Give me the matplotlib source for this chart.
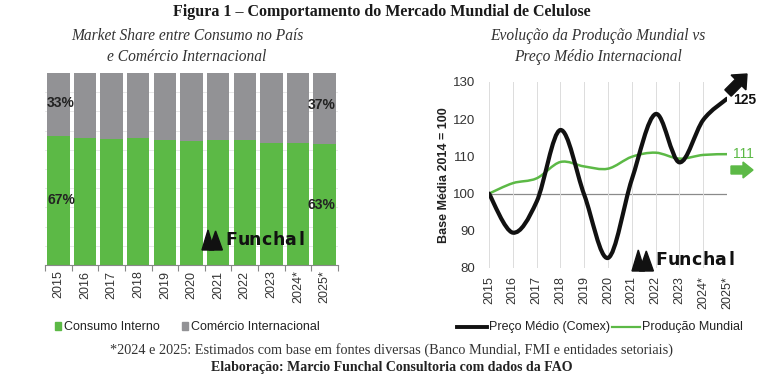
import matplotlib
matplotlib.use("Agg")
import matplotlib.pyplot as plt
from matplotlib import font_manager
from matplotlib.path import Path
from matplotlib.patches import PathPatch, Polygon, FancyArrow, Rectangle
from matplotlib.lines import Line2D
import numpy as np

# ---------------- data ----------------
years = ["2015", "2016", "2017", "2018", "2019", "2020", "2021", "2022", "2023", "2024*", "2025*"]
consumo_interno = [67.0, 66.2, 65.6, 66.0, 65.0, 64.6, 65.2, 64.9, 63.8, 63.8, 63.0]
comercio_internacional = [100 - v for v in consumo_interno]
preco_medio = [100.0, 89.5, 97.8, 117.1, 99.7, 82.7, 103.8, 121.4, 108.4, 119.8, 125.5]
producao_mundial = [100.0, 102.8, 104.1, 108.5, 107.3, 106.7, 109.9, 111.0, 109.4, 110.4, 110.6]
share_labels = ["33%", "67%", "37%", "63%"]
end_labels = ["125", "111"]

# ---------------- fonts ----------------
avail = {f.name for f in font_manager.fontManager.ttflist}
sans = "Liberation Sans Narrow" if "Liberation Sans Narrow" in avail else "Liberation Sans"
serif = "Liberation Serif"
plt.rcParams["font.family"] = [sans, "DejaVu Sans"]

GREEN = "#5cb946"
GRAY = "#929295"
DARK = "#1a1a1a"
W, H = 779, 379

fig = plt.figure(figsize=(7.79, 3.79), dpi=100)
fig.patch.set_facecolor("white")

def fx(px):
    return px / W

def fy(py):
    return 1 - py / H

# ---------------- titles ----------------
fig.text(fx(382), fy(12), "Figura 1 – Comportamento do Mercado Mundial de Celulose",
         ha="center", va="center", fontsize=11.5, fontweight="bold", family=serif, color=DARK)
fig.text(fx(187), fy(36), "Market Share entre Consumo no País", ha="center", va="center",
         fontsize=11.2, style="italic", family=serif, color="#333333")
fig.text(fx(187), fy(57), "e Comércio Internacional", ha="center", va="center",
         fontsize=11.2, style="italic", family=serif, color="#333333")
fig.text(fx(598), fy(36), "Evolução da Produção Mundial vs", ha="center", va="center",
         fontsize=11.2, style="italic", family=serif, color="#333333")
fig.text(fx(598), fy(57), "Preço Médio Internacional", ha="center", va="center",
         fontsize=11.2, style="italic", family=serif, color="#333333")

# ---------------- left chart ----------------
ax1 = fig.add_axes([fx(45), fy(265), fx(293), fy(73) - fy(265)])
x = np.arange(len(years))
ax1.bar(x, consumo_interno, width=0.84, color=GREEN, zorder=2)
ax1.bar(x, comercio_internacional, bottom=consumo_interno, width=0.84, color=GRAY, zorder=2)
ax1.set_xlim(-0.5, len(years) - 0.5)
ax1.set_ylim(0, 100)
for s in ["top", "right", "left"]:
    ax1.spines[s].set_visible(False)
ax1.spines["bottom"].set_color("#888888")
ax1.spines["bottom"].set_linewidth(0.8)
ax1.set_yticks([])
ax1.set_xticks(x)
ax1.set_xticklabels(years, rotation=90, fontsize=9, color="#333333")
ax1.tick_params(axis="x", length=0, pad=4)
ax1.set_xticks(np.arange(-0.5, len(years), 1), minor=True)
ax1.tick_params(axis="x", which="minor", length=4, color="#888888", width=0.8)
for g in np.arange(10, 100, 10):
    ax1.axhline(g, color="#e4e4e4", lw=0.6, zorder=1)

ax1.text(-0.42, 84.4, share_labels[0], ha="left", va="center",
         fontsize=10, fontweight="bold", color="#222222", zorder=5)
ax1.text(-0.42, 33.9, share_labels[1], ha="left", va="center",
         fontsize=10, fontweight="bold", color="#222222", zorder=5)
ax1.text(10.42, 83.3, share_labels[2], ha="right", va="center",
         fontsize=10, fontweight="bold", color="#222222", zorder=5)
ax1.text(10.42, 31.3, share_labels[3], ha="right", va="center",
         fontsize=10, fontweight="bold", color="#222222", zorder=5)

# ---------------- right chart ----------------
ax2 = fig.add_axes([fx(489), fy(268), fx(238), fy(82) - fy(268)])
xr = np.arange(len(years))
ax2.set_xlim(0, len(years) - 1)
ax2.set_ylim(80, 130)
for s in ["top", "right", "left", "bottom"]:
    ax2.spines[s].set_visible(False)
ax2.set_yticks([80, 90, 100, 110, 120, 130])
ax2.tick_params(axis="y", length=0, pad=10, labelsize=9.5, labelcolor="#333333")
ax2.set_xticks(xr)
ax2.set_xticklabels(years, rotation=90, fontsize=9, color="#333333")
ax2.tick_params(axis="x", length=0, pad=6)
ax2.grid(axis="x", color="#dcdcdc", lw=0.7)
ax2.axhline(100, color="#8a8a8a", lw=0.9, zorder=1)
ax2.set_ylabel("Base Média 2014 = 100", fontsize=9, fontweight="bold", color="#222222", labelpad=2)


def smooth_path(xs, ys):
    pts = np.column_stack([xs, ys]).astype(float)
    n = len(pts)
    verts = [pts[0]]
    codes = [Path.MOVETO]
    for i in range(n - 1):
        p0 = pts[i - 1] if i > 0 else pts[i]
        p1 = pts[i]
        p2 = pts[i + 1]
        p3 = pts[i + 2] if i + 2 < n else pts[i + 1]
        c1 = p1 + (p2 - p0) / 6.0
        c2 = p2 - (p3 - p1) / 6.0
        verts += [c1, c2, p2]
        codes += [Path.CURVE4] * 3
    return Path(verts, codes)

ax2.add_patch(PathPatch(smooth_path(xr, producao_mundial), fill=False, edgecolor=GREEN,
                        lw=1.8, zorder=3, capstyle="round"))
ax2.add_patch(PathPatch(smooth_path(xr, preco_medio), fill=False, edgecolor="#111111",
                        lw=3.0, zorder=4, capstyle="round", joinstyle="round"))

ax2.text(1.025, 125.2, end_labels[0], transform=ax2.get_yaxis_transform(), ha="left", va="center",
         fontsize=10, fontweight="bold", color="#111111", clip_on=False)
fig.text(fx(733), fy(154), end_labels[1], ha="left", va="center", fontsize=10, color=GREEN)

# arrows (drawn in inches so the shape is not distorted)
def pin(px, py):
    return px / 100.0, (H - py) / 100.0

bx, by = pin(728, 93)
fig.add_artist(FancyArrow(bx, by, 0.19, 0.19, width=0.09, head_width=0.21,
                          head_length=0.12, length_includes_head=True,
                          color="#111111", transform=fig.dpi_scale_trans))
gx, gy = pin(731, 170)
fig.add_artist(FancyArrow(gx, gy, 0.22, 0.0, width=0.08, head_width=0.16,
                          head_length=0.10, length_includes_head=True,
                          color=GREEN, transform=fig.dpi_scale_trans))

# ---------------- logos ----------------
def logo(x0, ybot, ytop, text_x, text_y, size):
    h = ybot - ytop
    tri1 = [(x0, ybot), (x0 + 0.3 * h, ytop), (x0 + 0.6 * h, ybot)]
    tri2 = [(x0 + 0.35 * h, ybot), (x0 + 0.68 * h, ytop + 1), (x0 + 1.02 * h, ybot)]
    for tri in (tri1, tri2):
        fig.add_artist(Polygon([(fx(a), fy(b)) for a, b in tri], closed=True,
                               color="#111111", transform=fig.transFigure, zorder=10))
    letters = "Funchal"
    step = 11.6
    for i, ch in enumerate(letters):
        fig.text(fx(text_x + (i + 0.5) * step), fy(text_y), ch, ha="center", va="center",
                 fontsize=size, fontweight="bold", family="DejaVu Sans", color="#111111", zorder=10)

logo(202, 250, 230, 226, 240, 12.5)
logo(632, 271, 250, 656, 260, 12.5)

# ---------------- legends ----------------
fig.add_artist(Rectangle((fx(55), fy(330)), fx(6), fy(322) - fy(330), color=GREEN,
                         transform=fig.transFigure))
fig.text(fx(64), fy(327), "Consumo Interno", ha="left", va="center", fontsize=9, color="#222222")
fig.add_artist(Rectangle((fx(182), fy(330)), fx(6), fy(322) - fy(330), color=GRAY,
                         transform=fig.transFigure))
fig.text(fx(191), fy(327), "Comércio Internacional", ha="left", va="center", fontsize=9, color="#222222")

fig.add_artist(Line2D([fx(457), fx(487)], [fy(327), fy(327)], color="#111111", lw=2.8,
                      transform=fig.transFigure))
fig.text(fx(489), fy(327), "Preço Médio (Comex)", ha="left", va="center", fontsize=9, color="#222222")
fig.add_artist(Line2D([fx(612), fx(640)], [fy(327), fy(327)], color=GREEN, lw=1.6,
                      transform=fig.transFigure))
fig.text(fx(642), fy(327), "Produção Mundial", ha="left", va="center", fontsize=9, color="#222222")

# ---------------- footer ----------------
fig.text(fx(392), fy(350), "*2024 e 2025: Estimados com base em fontes diversas (Banco Mundial, FMI e entidades setoriais)",
         ha="center", va="center", fontsize=10.3, family=serif, color="#333333")
fig.text(fx(392), fy(367), "Elaboração: Marcio Funchal Consultoria com dados da FAO",
         ha="center", va="center", fontsize=10, fontweight="bold", family=serif, color="#222222")

fig.savefig("out.png", dpi=100, facecolor="white")
